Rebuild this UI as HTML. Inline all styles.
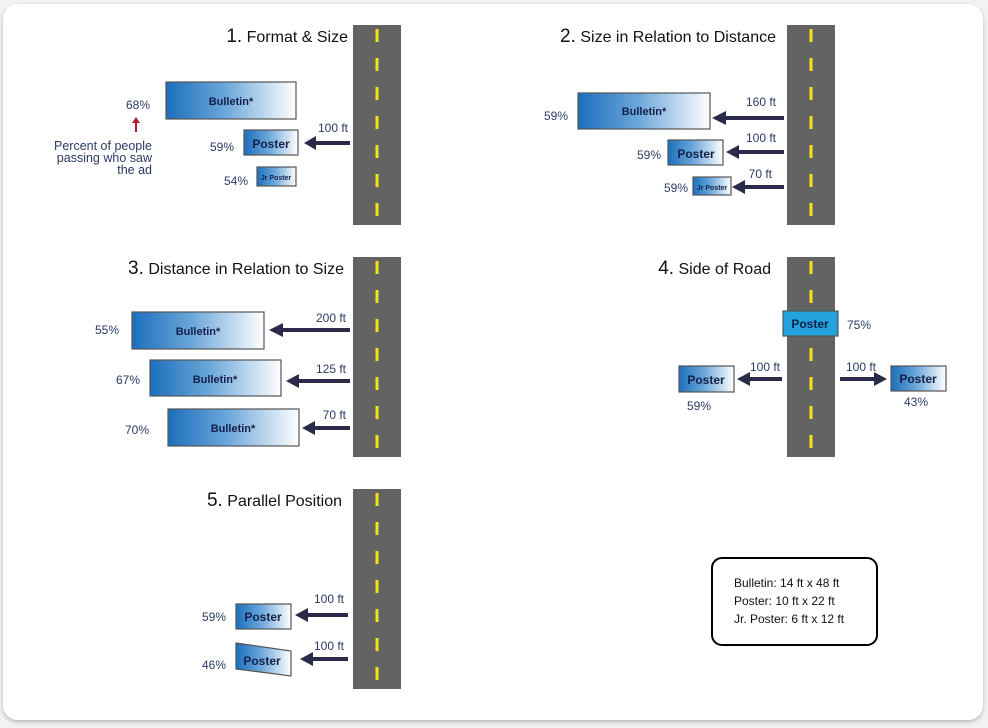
<!DOCTYPE html>
<html><head><meta charset="utf-8"><style>
html,body{margin:0;padding:0;background:#f2f2f2;}
svg{display:block;}
text{font-family:"Liberation Sans",sans-serif;}
.t{font-size:16px;fill:#111;}
.p{font-size:12px;fill:#2b3a66;}
.l{font-size:11px;fill:#14204a;font-weight:bold;}
.lg{font-size:12px;fill:#111;}
</style></head><body>
<svg width="988" height="728" viewBox="0 0 988 728" xmlns="http://www.w3.org/2000/svg">
<defs>
<linearGradient id="g" x1="0" x2="1" y1="0" y2="0">
<stop offset="0" stop-color="#1c6fbd"/><stop offset="0.45" stop-color="#6aa6d9"/><stop offset="1" stop-color="#ffffff"/>
</linearGradient>
<filter id="sh" x="-5%" y="-5%" width="110%" height="110%"><feDropShadow dx="0" dy="2" stdDeviation="2" flood-color="#000" flood-opacity="0.25"/></filter>
<g id="road">
<rect x="0" y="0" width="48" height="200" fill="#636363"/>
<g fill="#f2e419">
<rect x="22.5" y="4" width="3" height="13"/><rect x="22.5" y="33" width="3" height="13"/><rect x="22.5" y="62" width="3" height="13"/><rect x="22.5" y="91" width="3" height="13"/><rect x="22.5" y="120" width="3" height="13"/><rect x="22.5" y="149" width="3" height="13"/><rect x="22.5" y="178" width="3" height="13"/>
</g></g>
</defs>
<rect x="3" y="4" width="980" height="716" rx="15" fill="#fff" filter="url(#sh)"/>

<use href="#road" x="353" y="25"/>
<use href="#road" x="787" y="25"/>
<use href="#road" x="353" y="257"/>
<use href="#road" x="787" y="257"/>
<use href="#road" x="353" y="489"/>

<g fill="#2b2a48">
<path d="M350 141 L316 141 L316 136 L304 143 L316 150 L316 145 L350 145 Z"/>
<path d="M784 116 L726 116 L726 111 L712 118 L726 125 L726 120 L784 120 Z"/>
<path d="M784 150 L739 150 L739 145 L726 152 L739 159 L739 154 L784 154 Z"/>
<path d="M784 185 L745 185 L745 180 L732 187 L745 194 L745 189 L784 189 Z"/>
<path d="M350 328 L283 328 L283 323 L269 330 L283 337 L283 332 L350 332 Z"/>
<path d="M350 379 L299 379 L299 374 L286 381 L299 388 L299 383 L350 383 Z"/>
<path d="M350 426 L315 426 L315 421 L302 428 L315 435 L315 430 L350 430 Z"/>
<path d="M782 377 L750 377 L750 372 L737 379 L750 386 L750 381 L782 381 Z"/>
<path d="M840 377 L874 377 L874 372 L887 379 L874 386 L874 381 L840 381 Z"/>
<path d="M348 613 L308 613 L308 608 L295 615 L308 622 L308 617 L348 617 Z"/>
<path d="M348 657 L313 657 L313 652 L300 659 L313 666 L313 661 L348 661 Z"/>
</g>

<g stroke="#555" stroke-width="1.2" fill="url(#g)">
<rect x="166" y="82" width="130" height="37"/>
<rect x="244" y="130" width="54" height="25"/>
<rect x="257" y="167" width="39" height="19"/>
<rect x="578" y="93" width="132" height="36"/>
<rect x="668" y="140" width="55" height="25"/>
<rect x="693" y="177" width="38" height="18"/>
<rect x="132" y="312" width="132" height="37"/>
<rect x="150" y="360" width="131" height="36"/>
<rect x="168" y="409" width="131" height="37"/>
<rect x="679" y="366" width="55" height="26"/>
<rect x="891" y="366" width="55" height="25"/>
<rect x="236" y="604" width="55" height="25"/>
<polygon points="236,643 291,651 291,676 236,669"/>
</g>
<rect x="783" y="311" width="55" height="25" fill="#22a3de" stroke="#555" stroke-width="1.2"/>

<g class="l" text-anchor="middle">
<text x="231" y="105">Bulletin*</text>
<text x="271" y="148" style="font-size:12px">Poster</text>
<text x="276" y="180" style="font-size:7px">Jr Poster</text>
<text x="644" y="115">Bulletin*</text>
<text x="696" y="158" style="font-size:12px">Poster</text>
<text x="712" y="190" style="font-size:7px">Jr Poster</text>
<text x="198" y="335">Bulletin*</text>
<text x="215" y="383">Bulletin*</text>
<text x="233" y="432">Bulletin*</text>
<text x="810" y="328" style="font-size:12px">Poster</text>
<text x="706" y="384" style="font-size:12px">Poster</text>
<text x="918" y="383" style="font-size:12px">Poster</text>
<text x="263" y="621" style="font-size:12px">Poster</text>
<text x="262" y="665" style="font-size:12px">Poster</text>
</g>

<g class="p">
<text x="126" y="109">68%</text>
<text x="210" y="151">59%</text>
<text x="224" y="185">54%</text>
<text x="544" y="120">59%</text>
<text x="637" y="159">59%</text>
<text x="664" y="192">59%</text>
<text x="95" y="334">55%</text>
<text x="116" y="384">67%</text>
<text x="125" y="434">70%</text>
<text x="847" y="329">75%</text>
<text x="687" y="410">59%</text>
<text x="904" y="406">43%</text>
<text x="202" y="621">59%</text>
<text x="202" y="669">46%</text>
</g>
<g class="p" text-anchor="end">
<text x="348" y="132">100 ft</text>
<text x="776" y="106">160 ft</text>
<text x="776" y="142">100 ft</text>
<text x="772" y="178">70 ft</text>
<text x="346" y="322">200 ft</text>
<text x="346" y="373">125 ft</text>
<text x="346" y="419">70 ft</text>
<text x="780" y="371">100 ft</text>
<text x="876" y="371">100 ft</text>
<text x="344" y="603">100 ft</text>
<text x="344" y="650">100 ft</text>
<text x="152" y="150" style="font-size:12.5px">Percent of people</text>
<text x="152" y="162" style="font-size:12.5px">passing  who saw</text>
<text x="152" y="174" style="font-size:12.5px">the ad</text>
</g>
<path d="M135 132 L135 123 L132 123 L136 117 L140 123 L137 123 L137 132 Z" fill="#b0202a"/>

<g class="t" text-anchor="end">
<text x="348" y="42"><tspan style="font-size:19px">1.</tspan> Format &amp; Size</text>
<text x="776" y="42"><tspan style="font-size:19px">2.</tspan> Size in Relation to Distance</text>
<text x="344" y="274"><tspan style="font-size:19px">3.</tspan> Distance in Relation to Size</text>
<text x="771" y="274"><tspan style="font-size:19px">4.</tspan> Side of Road</text>
<text x="342" y="506"><tspan style="font-size:19px">5.</tspan> Parallel Position</text>
</g>

<rect x="712" y="558" width="165" height="87" rx="10" fill="#fff" stroke="#000" stroke-width="2"/>
<g class="lg">
<text x="734" y="587">Bulletin: 14 ft x 48 ft</text>
<text x="734" y="605">Poster: 10 ft x 22 ft</text>
<text x="734" y="623">Jr. Poster: 6 ft x 12 ft</text>
</g>
</svg>
</body></html>
